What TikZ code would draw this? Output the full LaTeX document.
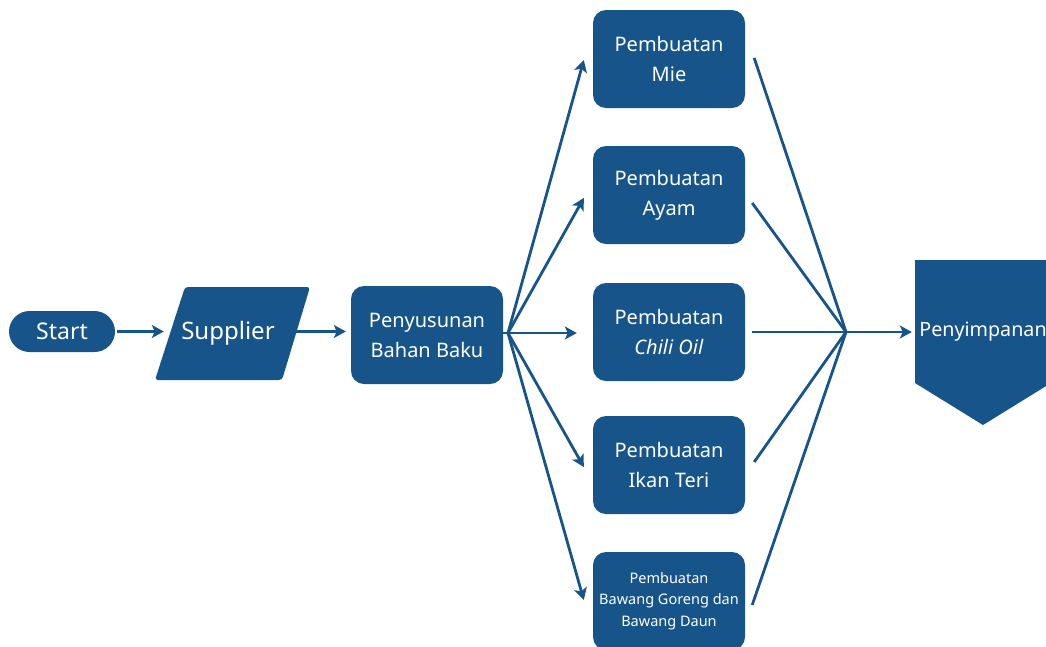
\documentclass[tikz,border=0pt]{standalone}
\usepackage{fontspec}
\setmainfont{Noto Sans}
\usetikzlibrary{arrows.meta,calc}
\definecolor{navy}{RGB}{22,84,138}
\begin{document}
\begin{tikzpicture}[x=1pt,y=-1pt,
  box/.style={fill=navy, text=white, rounded corners=13pt, minimum width=152pt,
    minimum height=98pt, align=center, inner sep=0pt,
    font=\fontsize{20}{30}\selectfont},
  link/.style={draw=navy, line width=2.8pt},
  arr/.style={link, -{Stealth[length=12pt,width=13pt,inset=3pt]}},
]
\clip (0,0) rectangle (1046,646);

% start terminal
\node[fill=navy, text=white, rounded corners=20.5pt, minimum width=106pt,
  minimum height=41pt, inner sep=0pt, font=\fontsize{23}{26}\selectfont]
  (start) at (62,331.5) {\raisebox{-1.5pt}{Start}};

% supplier (input parallelogram)
\fill[navy, rounded corners=3pt] (185,287) -- (310,287) -- (282,380) -- (155,380) -- cycle;
\node[text=white, minimum width=126pt, minimum height=93pt, inner sep=0pt,
  font=\fontsize{24}{26}\selectfont] (supplier) at (228,333) {\raisebox{-2.5pt}{Supplier}};

% preparation of raw materials
\node[box] (bahan) at (427,335) {Penyusunan\\Bahan Baku};

% production branches
\node[box] (mie) at (669,59) {Pembuatan\\Mie};
\node[box] (ayam) at (669,195) {Pembuatan\\Ayam};
\node[box] (chili) at (669,332) {Pembuatan\\\textit{Chili Oil}};
\node[box] (ikan) at (669,465) {Pembuatan\\Ikan Teri};
\node[box, font=\fontsize{14.5}{21.5}\selectfont] (bawang) at (669,601)
  {Pembuatan\\Bawang Goreng dan\\Bawang Daun};

% storage (off-page connector)
\fill[navy] (915,260) -- (1051,260) -- (1051,383) -- (983,425) -- (915,383) -- cycle;
\node[text=white, minimum width=136pt, minimum height=40pt, inner sep=0pt,
  font=\fontsize{19.7}{22}\selectfont] (store) at (983,332) {Penyimpanan};

\coordinate (fan) at (508,333);
\coordinate (merge) at (846,332);

% main flow
\draw[arr, shorten <=2pt] (start) -- ($(supplier.west)+(-1,-1.5)$);
\draw[arr, shorten <=3pt, shorten >=5pt] ($(supplier.east)+(0,-1.5)$) -- ($(bahan.west)+(0,-3.5)$);
\draw[link] ($(bahan.east)+(0,-2)$) -- (fan);

% split into branches
\draw[arr] (fan) -- ($(mie.west)+(-9,1)$);
\draw[arr] (fan) -- ($(ayam.west)+(-9,3)$);
\draw[arr] (fan) -- ($(chili.west)+(-16,1)$);
\draw[arr] (fan) -- ($(ikan.west)+(-9,2)$);
\draw[arr] (fan) -- ($(bawang.west)+(-9,-1)$);

% join the branches
\draw[link] ($(mie.east)+(9,-1)$) -- (merge);
\draw[link] ($(ayam.east)+(7,8)$) -- (merge);
\draw[link] ($(chili.east)+(7,0)$) -- (merge);
\draw[link] ($(ikan.east)+(9,-3)$) -- (merge);
\draw[link] ($(bawang.east)+(7,4)$) -- (merge);
\draw[arr, shorten >=3pt] (merge) -- (store.west);
\end{tikzpicture}
\end{document}
